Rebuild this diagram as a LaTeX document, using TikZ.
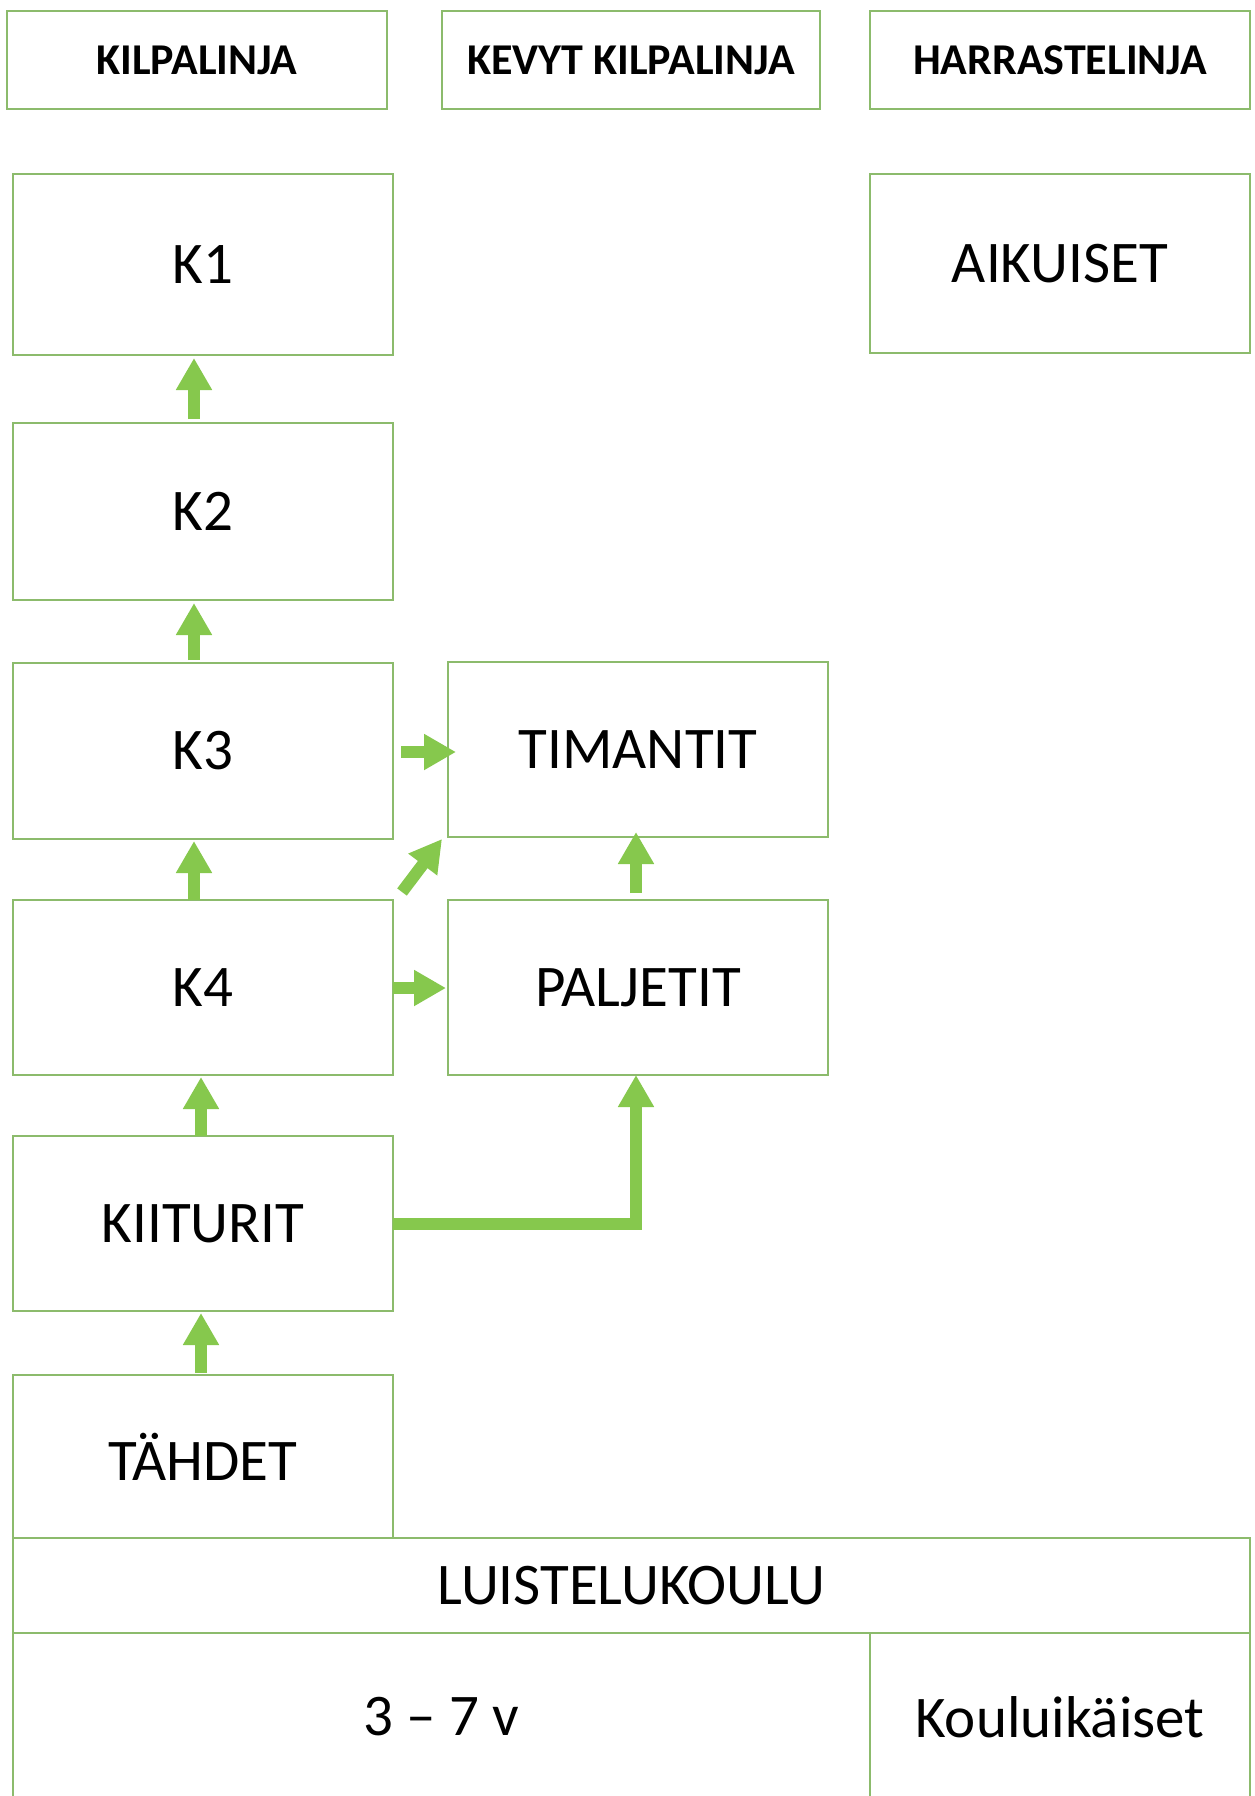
\documentclass[tikz,border=0pt]{standalone}
\usepackage{fontspec}
\setmainfont{Carlito}
\usetikzlibrary{arrows.meta,calc}
\definecolor{boxgreen}{RGB}{140,187,108}
\definecolor{argreen}{RGB}{134,200,77}
\tikzset{
  box/.style={draw=boxgreen, line width=2pt, rectangle, inner sep=0pt, outer sep=0pt, fill=white, font=\fontsize{59}{65}\selectfont},
  headbox/.style={box, font=\bfseries\fontsize{44}{48}\selectfont},
  arr/.style={draw=argreen, line width=12pt, -{Triangle[width=34pt,length=32pt]}}
}
\begin{document}
\begin{tikzpicture}[x=1pt,y=-1pt]
\useasboundingbox (0,0) rectangle (1254,1796);
\clip (0,0) rectangle (1254,1796);
\fill[white] (0,0) rectangle (1254,1796);
% header boxes
\node[headbox, minimum width=380pt, minimum height=98pt] (hk) at (197,60) {KILPALINJA};
\node[headbox, minimum width=378pt, minimum height=98pt] (hkk) at (631,60) {KEVYT KILPALINJA};
\node[headbox, minimum width=380pt, minimum height=98pt] (hh) at (1060,60) {HARRASTELINJA};
% main boxes
\node[box, minimum width=380pt, minimum height=181pt] (K1) at (203,264.5) {K1};
\node[box, minimum width=380pt, minimum height=179pt] (AIK) at (1060,263.5) {AIKUISET};
\node[box, minimum width=380pt, minimum height=177pt] (K2) at (203,511.5) {K2};
\node[box, minimum width=380pt, minimum height=176pt] (K3) at (203,751) {K3};
\node[box, minimum width=380pt, minimum height=175pt] (TIM) at (638,749.5) {TIMANTIT};
\node[box, minimum width=380pt, minimum height=175pt] (K4) at (203,987.5) {K4};
\node[box, minimum width=380pt, minimum height=175pt] (PAL) at (638,987.5) {PALJETIT};
\node[box, minimum width=380pt, minimum height=175pt] (KIIT) at (203,1223.5) {KIITURIT};
\node[box, minimum width=380pt, minimum height=163pt] (TAH) at (203,1456.5) {TÄHDET};
\node[box, minimum width=1237pt, minimum height=95pt] (LUIS) at (631.5,1585.5) {LUISTELUKOULU};
\node[box, minimum width=857pt, minimum height=168pt] (V37) at (441.5,1717) {3 – 7 v};
\node[box, minimum width=380pt, minimum height=168pt] (KOUL) at (1060,1717) {Kouluikäiset};
% arrows
\draw[arr] ($(K2.north)+(-9,-4)$) -- ($(K1.south)+(-9,3)$);
\draw[arr] ($(K3.north)+(-9,-3)$) -- ($(K2.south)+(-9,3)$);
\draw[arr] ($(K4.north)+(-9,0)$) -- ($(K3.south)+(-9,2)$);
\draw[arr] ($(KIIT.north)+(-2,0)$) -- ($(K4.south)+(-2,2)$);
\draw[arr] ($(TAH.north)+(-2,-2)$) -- ($(KIIT.south)+(-2,2)$);
\draw[arr] ($(K3.east)+(8,1)$) -- ($(TIM.west)+(8,2.5)$);
\draw[arr] ($(K4.north east)+(9,-8)$) -- ($(TIM.south west)+(-6,2)$);
\draw[arr] ($(K4.east)+(0,0.5)$) -- ($(PAL.west)+(-2,0.5)$);
\draw[arr] ($(PAL.north)+(-2,-7)$) -- ($(TIM.south)+(-2,-5)$);
\draw[arr] ($(KIIT.east)+(0,0.5)$) -| ($(PAL.south)+(-2,0)$);
\end{tikzpicture}
\end{document}
